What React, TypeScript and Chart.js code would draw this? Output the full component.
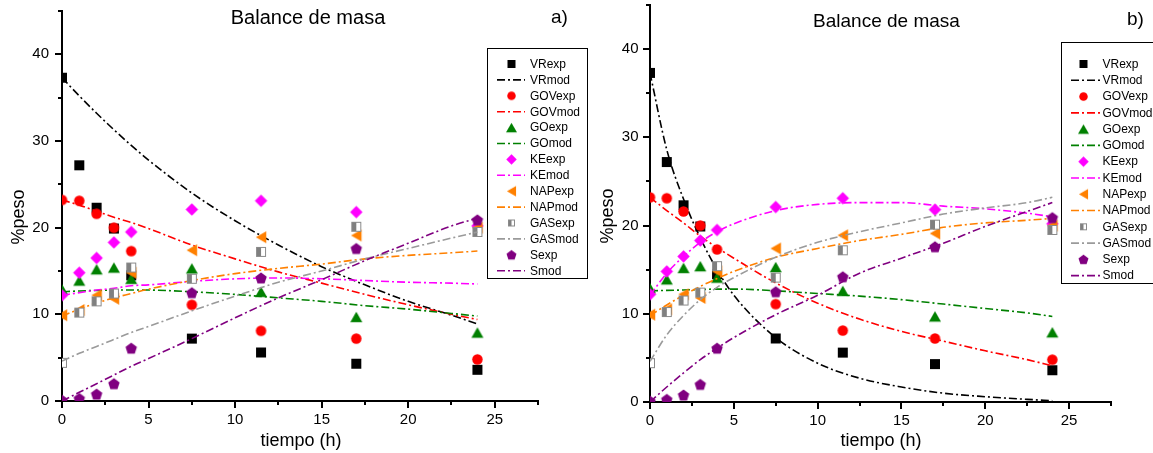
import React, { useEffect, useRef } from 'react';
import { Chart, registerables } from 'chart.js';

Chart.register(...registerables);

const FONT = "'Liberation Sans', Arial, Helvetica, sans-serif";

// ---------- data ----------
const timeExp = [0, 1, 2, 3, 4, 7.5, 11.5, 17, 24];
const VRexp = [37.3, 27.2, 22.3, 19.9, 14.5, 7.2, 5.6, 4.3, 3.6];
const GOVexp = [23.2, 23.1, 21.6, 20.0, 17.3, 11.1, 8.1, 7.2, 4.8];
const GOexp = [12.9, 13.9, 15.2, 15.4, 14.1, 15.3, 12.6, 9.7, 7.9];
const KEexp = [12.2, 14.8, 16.5, 18.3, 19.5, 22.1, 23.1, 21.8, 20.2];
const NAPexp = [9.9, 10.5, 12.2, 11.8, 14.8, 17.4, 18.9, 19.1, 20.0];
const GASexp = [4.4, 10.2, 11.5, 12.4, 15.4, 14.1, 17.2, 20.1, 19.5];
const Sexp = [0.1, 0.3, 0.8, 2.0, 6.1, 12.5, 14.2, 17.6, 20.9];

const timeMod = [0, 1, 2, 3, 4, 5, 7.5, 10, 12.5, 15, 17.5, 20, 22.5, 24];
// panel a) model curves
const VRmodA = [37.3, 35.2, 33.2, 31.3, 29.5, 27.8, 24.0, 20.8, 18.0, 15.5, 13.4, 11.5, 9.9, 8.9];
const GOVmodA = [23.2, 22.6, 21.9, 21.2, 20.6, 19.9, 18.0, 16.4, 14.9, 13.6, 12.3, 11.1, 10.0, 9.4];
const GOmodA = [12.6, 12.7, 12.75, 12.8, 12.8, 12.8, 12.6, 12.3, 11.9, 11.5, 11.0, 10.6, 10.1, 9.8];
const KEmodA = [12.2, 12.5, 12.8, 13.0, 13.3, 13.4, 13.8, 14.1, 14.2, 14.1, 13.9, 13.7, 13.6, 13.5];
const NAPmodA = [9.8, 10.6, 11.3, 11.9, 12.4, 12.9, 13.9, 14.7, 15.3, 15.8, 16.4, 16.8, 17.1, 17.3];
const GASmodA = [4.6, 5.5, 6.3, 7.1, 7.9, 8.6, 10.4, 12.1, 13.7, 15.0, 16.4, 17.6, 18.8, 19.5];
const SmodA = [0, 1.0, 2.0, 3.0, 4.0, 4.9, 7.2, 9.6, 11.9, 14.0, 16.2, 18.2, 20.2, 21.1];
// panel b) model curves
const VRmodB = [37.3, 28.6, 23.0, 18.6, 15.0, 12.1, 7.3, 4.4, 2.7, 1.7, 1.0, 0.6, 0.3, 0.15];
const GOVmodB = [23.2, 21.7, 20.3, 18.8, 17.5, 16.3, 13.5, 11.2, 9.4, 8.0, 6.9, 5.8, 4.8, 4.1];
const GOmodB = [12.6, 12.65, 12.7, 12.75, 12.8, 12.8, 12.6, 12.3, 12.0, 11.6, 11.1, 10.6, 10.1, 9.7];
const KEmodB = [12.1, 14.6, 16.5, 18.1, 19.3, 20.2, 21.7, 22.4, 22.6, 22.6, 22.2, 21.9, 21.4, 21.0];
const NAPmodB = [9.8, 11.0, 12.1, 13.1, 14.0, 14.8, 16.4, 17.4, 18.3, 19.0, 19.8, 20.3, 20.6, 20.8];
const GASmodB = [4.6, 7.6, 9.8, 11.6, 13.0, 14.1, 16.4, 18.1, 19.3, 20.3, 21.3, 22.0, 22.6, 23.2];
const SmodB = [0, 1.7, 3.3, 4.8, 6.1, 7.3, 9.9, 12.1, 14.6, 16.3, 18.0, 19.9, 21.6, 22.6];

const xMajorTicks = [0, 5, 10, 15, 20, 25];
const xMinorTicks = [2.5, 7.5, 12.5, 17.5, 22.5, 27.5];
const yMajorTicks = [0, 10, 20, 30, 40];
const yMinorTicks = [5, 15, 25, 35, 45];

const chartTitle = 'Balance de masa';
const xTitle = 'tiempo (h)';
const yTitle = '%peso';

type Shape = 'square' | 'circle' | 'triangle' | 'diamond' | 'triLeft' | 'halfSquare' | 'pentagon';

const SERIES: { key: string; color: string; lineColor: string; shape: Shape; size: number; lsize: number }[] = [
  { key: 'VR', color: '#000000', lineColor: '#000000', shape: 'square', size: 10, lsize: 8 },
  { key: 'GOV', color: '#FF0000', lineColor: '#FF0000', shape: 'circle', size: 10.5, lsize: 8.5 },
  { key: 'GO', color: '#008000', lineColor: '#008000', shape: 'triangle', size: 12, lsize: 11 },
  { key: 'KE', color: '#FF00FF', lineColor: '#FF00FF', shape: 'diamond', size: 12.5, lsize: 10.5 },
  { key: 'NAP', color: '#FF8000', lineColor: '#FF8000', shape: 'triLeft', size: 12, lsize: 10.5 },
  { key: 'GAS', color: '#808080', lineColor: '#9A9A9A', shape: 'halfSquare', size: 10, lsize: 7 },
  { key: 'S', color: '#800080', lineColor: '#800080', shape: 'pentagon', size: 12, lsize: 10.5 },
];

const EXP: Record<string, number[]> = { VR: VRexp, GOV: GOVexp, GO: GOexp, KE: KEexp, NAP: NAPexp, GAS: GASexp, S: Sexp };
const MOD_A: Record<string, number[]> = { VR: VRmodA, GOV: GOVmodA, GO: GOmodA, KE: KEmodA, NAP: NAPmodA, GAS: GASmodA, S: SmodA };
const MOD_B: Record<string, number[]> = { VR: VRmodB, GOV: GOVmodB, GO: GOmodB, KE: KEmodB, NAP: NAPmodB, GAS: GASmodB, S: SmodB };

const DASH = [8, 3, 2, 3];

function makeMarker(shape: Shape, size: number, color: string): HTMLCanvasElement {
  const pad = 2;
  const S = Math.ceil(size) + pad * 2;
  const c = document.createElement('canvas');
  c.width = S;
  c.height = S;
  const g = c.getContext('2d')!;
  const m = S / 2;
  const r = size / 2;
  g.fillStyle = color;
  g.beginPath();
  switch (shape) {
    case 'square':
      g.rect(m - r, m - r, size, size);
      g.fill();
      break;
    case 'circle':
      g.arc(m, m, r, 0, Math.PI * 2);
      g.fill();
      break;
    case 'triangle': {
      const h = size * 0.87;
      g.moveTo(m, m - h / 2);
      g.lineTo(m + r, m + h / 2);
      g.lineTo(m - r, m + h / 2);
      g.closePath();
      g.fill();
      break;
    }
    case 'triLeft': {
      const w = size * 0.87;
      g.moveTo(m - w / 2, m);
      g.lineTo(m + w / 2, m - r);
      g.lineTo(m + w / 2, m + r);
      g.closePath();
      g.fill();
      break;
    }
    case 'diamond':
      g.moveTo(m, m - r);
      g.lineTo(m + r, m);
      g.lineTo(m, m + r);
      g.lineTo(m - r, m);
      g.closePath();
      g.fill();
      break;
    case 'pentagon': {
      const shift = r * 0.095;
      for (let k = 0; k < 5; k++) {
        const a = -Math.PI / 2 + (k * 2 * Math.PI) / 5;
        const px = m + r * Math.cos(a);
        const py = m + shift + r * Math.sin(a);
        if (k === 0) g.moveTo(px, py);
        else g.lineTo(px, py);
      }
      g.closePath();
      g.fill();
      break;
    }
    case 'halfSquare':
      g.fillStyle = '#ffffff';
      g.fillRect(m - r, m - r, size, size);
      g.fillStyle = color;
      g.fillRect(m - r, m - r, r, size);
      g.strokeStyle = '#8a8a8a';
      g.lineWidth = 1;
      g.strokeRect(m - r + 0.5, m - r + 0.5, size - 1, size - 1);
      break;
  }
  return c;
}

type PanelCfg = {
  width: number;
  area: { left: number; right: number; top: number; bottom: number };
  mod: Record<string, number[]>;
  title: { x: number; y: number; size: number };
  tag: { text: string; x: number; y: number };
  yTitlePos: { x: number; y: number };
  xTitlePos: { x: number; y: number };
  legend: { box: [number, number, number, number]; y0: number; dy: number; lineX0: number; lineX1: number; iconX: number; textX: number };
  yTickPad: number;
  xTickPad: number;
};

const PANEL_A: PanelCfg = {
  width: 600,
  area: { left: 62, right: 538, top: 11, bottom: 401 },
  mod: MOD_A,
  title: { x: 308, y: 18, size: 20 },
  tag: { text: 'a)', x: 559.5, y: 18 },
  yTitlePos: { x: 19, y: 217 },
  xTitlePos: { x: 301, y: 441 },
  legend: { box: [487.5, 48.5, 100, 230], y0: 64, dy: 15.9, lineX0: 497, lineX1: 525, iconX: 511.5, textX: 530 },
  yTickPad: 13,
  xTickPad: 10,
};

const PANEL_B: PanelCfg = {
  width: 573,
  area: { left: 70, right: 531, top: 5, bottom: 402 },
  mod: MOD_B,
  title: { x: 306.5, y: 22, size: 19 },
  tag: { text: 'b)', x: 555.5, y: 20 },
  yTitlePos: { x: 28, y: 216 },
  xTitlePos: { x: 301, y: 441 },
  legend: { box: [481.5, 42.5, 120, 241], y0: 64, dy: 16.28, lineX0: 491, lineX1: 520, iconX: 503.5, textX: 522.5 },
  yTickPad: 11.5,
  xTickPad: 10,
};

function buildChart(canvas: HTMLCanvasElement, p: PanelCfg) {
  const datasets: any[] = [];
  const legendItems: { label: string; isLine: boolean; color: string; icon?: HTMLCanvasElement }[] = [];
  SERIES.forEach((s) => {
    const marker = makeMarker(s.shape, s.size, s.color);
    const legendIcon = makeMarker(s.shape, s.lsize, s.color);
    datasets.push({
      label: s.key + 'exp',
      data: timeExp.map((t, i) => ({ x: t, y: EXP[s.key][i] })),
      showLine: false,
      pointStyle: marker,
      pointRadius: 5,
      pointBorderWidth: 0,
      backgroundColor: s.color,
      borderColor: s.color,
      clip: 0,
    });
    legendItems.push({ label: s.key + 'exp', isLine: false, color: s.color, icon: legendIcon });
    datasets.push({
      label: s.key + 'mod',
      data: timeMod.map((t, i) => ({ x: t, y: p.mod[s.key][i] })),
      showLine: true,
      pointRadius: 0,
      borderColor: s.lineColor,
      backgroundColor: s.lineColor,
      borderWidth: 1.6,
      borderDash: DASH,
      fill: false,
      cubicInterpolationMode: 'monotone',
      clip: 0,
    });
    legendItems.push({ label: s.key + 'mod', isLine: true, color: s.lineColor });
  });
  datasets.forEach((d, i) => (d.order = 100 - i));

  const decor = {
    id: 'decor',
    afterDraw(chart: any) {
      const ctx = chart.ctx as CanvasRenderingContext2D;
      const xs = chart.scales.x;
      const ys = chart.scales.y;
      const area = chart.chartArea;
      ctx.save();
      // tick marks (outward), major and minor
      ctx.strokeStyle = '#000';
      ctx.lineWidth = 2;
      ctx.setLineDash([]);
      ctx.beginPath();
      xMajorTicks.concat(xMinorTicks).forEach((v) => {
        const px = Math.round(xs.getPixelForValue(v));
        const len = xMajorTicks.includes(v) ? 7 : 4;
        ctx.moveTo(px, area.bottom);
        ctx.lineTo(px, area.bottom + len);
      });
      yMajorTicks.concat(yMinorTicks).forEach((v) => {
        const py = Math.round(ys.getPixelForValue(v));
        const len = yMajorTicks.includes(v) ? 7 : 4;
        ctx.moveTo(area.left, py);
        ctx.lineTo(area.left - len, py);
      });
      ctx.stroke();

      // titles
      ctx.fillStyle = '#000';
      ctx.textAlign = 'center';
      ctx.textBaseline = 'middle';
      ctx.font = `${p.title.size}px ${FONT}`;
      ctx.fillText(chartTitle, p.title.x, p.title.y);
      ctx.font = `19px ${FONT}`;
      ctx.fillText(p.tag.text, p.tag.x, p.tag.y);
      ctx.font = `18px ${FONT}`;
      ctx.fillText(xTitle, p.xTitlePos.x, p.xTitlePos.y);
      ctx.save();
      ctx.translate(p.yTitlePos.x, p.yTitlePos.y);
      ctx.rotate(-Math.PI / 2);
      ctx.fillText(yTitle, 0, 0);
      ctx.restore();

      // legend
      const L = p.legend;
      ctx.fillStyle = '#ffffff';
      ctx.fillRect(L.box[0], L.box[1], L.box[2], L.box[3]);
      ctx.strokeStyle = '#000';
      ctx.lineWidth = 1;
      ctx.strokeRect(L.box[0], L.box[1], L.box[2], L.box[3]);
      ctx.font = `12px ${FONT}`;
      ctx.textAlign = 'left';
      ctx.textBaseline = 'middle';
      legendItems.forEach((it, i) => {
        const y = L.y0 + i * L.dy;
        if (it.isLine) {
          ctx.save();
          ctx.strokeStyle = it.color;
          ctx.lineWidth = 1.6;
          ctx.setLineDash(DASH);
          ctx.beginPath();
          ctx.moveTo(L.lineX0, y);
          ctx.lineTo(L.lineX1, y);
          ctx.stroke();
          ctx.restore();
        } else if (it.icon) {
          ctx.drawImage(it.icon, L.iconX - it.icon.width / 2, y - it.icon.height / 2);
        }
        ctx.fillStyle = '#000';
        ctx.fillText(it.label, L.textX, y + 0.5);
      });
      ctx.restore();
    },
  };

  const tickFont = { family: FONT, size: 15 };
  return new Chart(canvas, {
    type: 'scatter',
    data: { datasets },
    options: {
      responsive: false,
      animation: false,
      devicePixelRatio: 1,
      events: [],
      layout: { padding: { left: 0, top: p.area.top, right: p.width - p.area.right, bottom: 0 } },
      plugins: { legend: { display: false }, tooltip: { enabled: false }, title: { display: false } },
      scales: {
        x: {
          type: 'linear',
          position: 'bottom',
          min: 0,
          max: 27.5,
          grid: { display: false, drawTicks: false },
          border: { display: true, color: '#000', width: 2 },
          ticks: { color: '#000', font: tickFont, padding: p.xTickPad, maxRotation: 0, autoSkip: false },
          afterBuildTicks: (s: any) => {
            s.ticks = xMajorTicks.map((v) => ({ value: v }));
          },
          afterFit: (s: any) => {
            s.height = 453 - p.area.bottom;
            s.paddingLeft = 0;
            s.paddingRight = 0;
          },
        },
        y: {
          type: 'linear',
          position: 'left',
          min: 0,
          max: 45,
          grid: { display: false, drawTicks: false },
          border: { display: true, color: '#000', width: 2 },
          ticks: { color: '#000', font: tickFont, padding: p.yTickPad, autoSkip: false },
          afterBuildTicks: (s: any) => {
            s.ticks = yMajorTicks.map((v) => ({ value: v }));
          },
          afterFit: (s: any) => {
            s.width = p.area.left;
            s.paddingTop = 0;
            s.paddingBottom = 0;
          },
        },
      },
    } as any,
    plugins: [decor],
  });
}

export default function App() {
  const refA = useRef<HTMLCanvasElement>(null);
  const refB = useRef<HTMLCanvasElement>(null);
  useEffect(() => {
    const a = buildChart(refA.current!, PANEL_A);
    const b = buildChart(refB.current!, PANEL_B);
    return () => {
      a.destroy();
      b.destroy();
    };
  }, []);
  return (
    <div style={{ position: 'absolute', left: 0, top: 0, width: 1153, height: 453, background: '#ffffff', overflow: 'hidden' }}>
      <canvas ref={refA} width={600} height={453} style={{ position: 'absolute', left: 0, top: 0 }} />
      <canvas ref={refB} width={573} height={453} style={{ position: 'absolute', left: 580, top: 0 }} />
    </div>
  );
}
